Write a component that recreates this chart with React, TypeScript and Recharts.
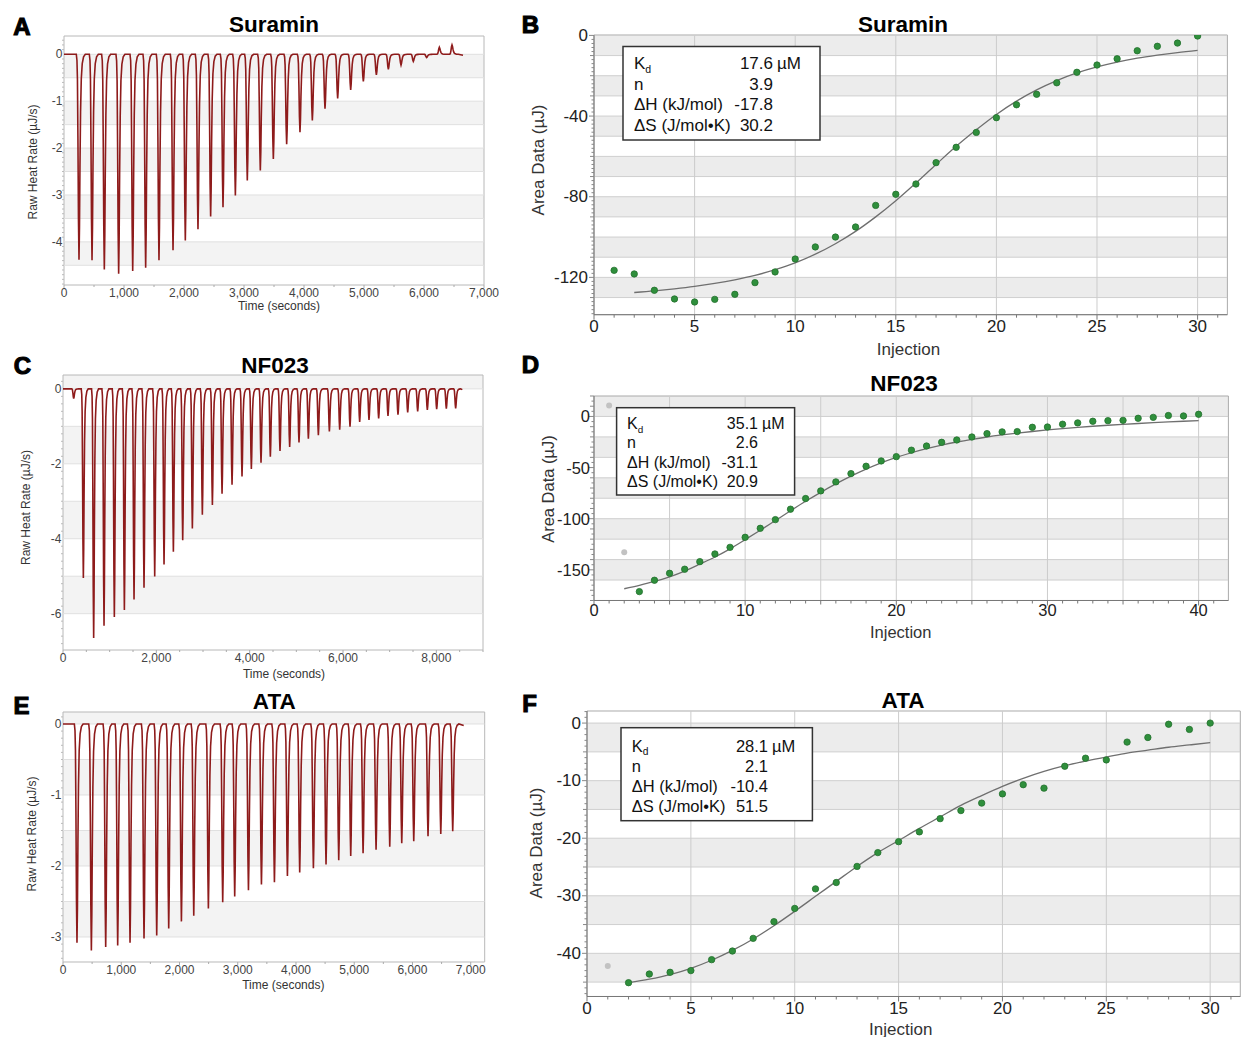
import React from 'react';
import { ComposedChart, Line, XAxis, YAxis, ReferenceArea, ReferenceLine } from 'recharts';

const FONT = '"Liberation Sans", Arial, Helvetica, sans-serif';

const range = (a: number, b: number, step: number): number[] => {
  const out: number[] = [];
  const n = Math.round((b - a) / step);
  for (let i = 0; i <= n; i++) out.push(Math.round((a + i * step) * 1000) / 1000);
  return out;
};
const has = (arr: number[], v: number) => arr.some((a) => Math.abs(a - v) < 1e-6);

// ---------------- Raw thermogram data (A, C, E) ----------------
// shape of one injection peak: [seconds relative to peak, fraction of peak height]
const dipShape: [number, number][] = [
  [-45, 0], [-34, 0.03], [-26, 0.12], [-18, 0.4], [-9, 0.8], [0, 1], [8, 0.84],
  [16, 0.55], [26, 0.28], [38, 0.12], [54, 0.045], [76, 0.012], [105, 0],
];

const aInjectionTimes = [250, 467, 672, 911, 1145, 1361, 1583, 1817, 2022, 2233, 2444, 2650, 2856, 3055, 3272, 3489, 3711, 3933, 4139, 4350, 4561, 4778, 4989, 5206, 5406, 5617, 5822, 6044, 6256, 6467];
const aPeakHeat = [-4.38, -4.39, -4.59, -4.68, -4.62, -4.55, -4.39, -4.18, -3.97, -3.73, -3.46, -3.26, -3.01, -2.69, -2.48, -2.23, -1.92, -1.66, -1.41, -1.16, -0.94, -0.76, -0.58, -0.44, -0.32, -0.23, -0.15, -0.07, 0.15, 0.2];
const aEndTime = 6650;

const cInjectionTimes = [229, 436, 657, 879, 1100, 1315, 1522, 1736, 1965, 2165, 2365, 2565, 2772, 2986, 3201, 3408, 3622, 3836, 4036, 4243, 4443, 4650, 4857, 5057, 5258, 5472, 5708, 5929, 6150, 6357, 6557, 6764, 6964, 7178, 7386, 7600, 7807, 8007, 8214, 8414];
const cPeakHeat = [-0.26, -5.05, -6.65, -6.32, -6.09, -5.9, -5.62, -5.31, -5.01, -4.69, -4.35, -4.04, -3.73, -3.36, -3.1, -2.8, -2.56, -2.34, -2.14, -1.97, -1.81, -1.66, -1.55, -1.43, -1.33, -1.24, -1.14, -1.09, -1.01, -0.88, -0.83, -0.79, -0.72, -0.69, -0.63, -0.6, -0.56, -0.54, -0.53, -0.52];
const cEndTime = 8557;

const eInjectionTimes = [240, 487, 733, 939, 1151, 1391, 1609, 1815, 2033, 2245, 2496, 2742, 2948, 3184, 3407, 3630, 3853, 4064, 4299, 4516, 4734, 4940, 5152, 5375, 5610, 5816, 6022, 6267, 6486, 6691];
const ePeakHeat = [-3.08, -3.19, -3.14, -3.12, -3.08, -3.02, -2.98, -2.88, -2.78, -2.7, -2.6, -2.51, -2.43, -2.34, -2.26, -2.23, -2.14, -2.09, -2.03, -1.98, -1.92, -1.86, -1.82, -1.77, -1.73, -1.68, -1.65, -1.58, -1.55, -1.51];
const eEndTime = 6880;

const timeTicksA = [0, 1000, 2000, 3000, 4000, 5000, 6000, 7000];
const timeTicksC = [0, 2000, 4000, 6000, 8000];
const timeTicksE = [0, 1000, 2000, 3000, 4000, 5000, 6000, 7000];
const heatTicksA = [0, -1, -2, -3, -4];
const heatTicksC = [0, -2, -4, -6];
const heatTicksE = [0, -1, -2, -3];

// ---------------- Integrated heat data (B, D, F) ----------------
const bInjections = range(1, 30, 1);
const bArea = [-116.5, -118.3, -126.4, -130.7, -132.2, -130.9, -128.4, -122.6, -117.3, -110.9, -104.9, -100.0, -95.0, -84.3, -78.8, -73.7, -63.1, -55.5, -48.1, -40.8, -34.4, -29.2, -23.5, -18.3, -14.7, -11.6, -7.6, -5.4, -3.8, -0.3];
const bFitInjections = range(2, 30, 1);
const bFit = [-127.5, -126.7, -125.7, -124.5, -123.0, -121.2, -119.0, -116.2, -112.8, -108.5, -103.3, -97.2, -90.0, -82.0, -73.2, -64.0, -55.0, -46.8, -39.2, -32.6, -27.0, -22.4, -18.6, -15.6, -13.2, -11.3, -9.8, -8.5, -7.4];
const bStatValues = ['17.6', '3.9', '-17.8', '30.2'];

const dInjections = range(3, 40, 1);
const dArea = [-171.3, -160.2, -153.4, -149.4, -142.0, -134.5, -128.0, -118.2, -109.4, -100.9, -90.7, -80.3, -72.8, -64.0, -55.9, -48.7, -43.5, -39.3, -33.0, -28.9, -25.3, -23.0, -20.1, -16.8, -15.1, -14.8, -10.6, -10.3, -7.6, -6.3, -4.7, -4.1, -3.8, -1.8, -0.9, 0.9, 0.5, 2.1];
const dExcludedInjections = [1, 2];
const dExcludedArea = [10.6, -132.9];
const dFitInjections = range(2, 40, 1);
const dFit = [-168.5, -165.2, -161.4, -156.8, -151.2, -144.5, -137.5, -129.5, -120.5, -111.3, -101.8, -92.3, -83.0, -74.2, -66.0, -58.4, -51.5, -45.4, -40.1, -35.5, -31.5, -28.0, -25.0, -22.4, -20.1, -18.1, -16.3, -14.7, -13.2, -11.9, -10.7, -9.6, -8.6, -7.7, -6.9, -6.1, -5.4, -4.7, -4.1];
const dStatValues = ['35.1', '2.6', '-31.1', '20.9'];

const fInjections = range(2, 30, 1);
const fArea = [-45.1, -43.6, -43.3, -43.0, -41.1, -39.6, -37.4, -34.5, -32.2, -28.8, -27.7, -24.9, -22.5, -20.6, -18.9, -16.6, -15.2, -13.9, -12.3, -10.7, -11.3, -7.5, -6.1, -6.4, -3.3, -2.5, -0.2, -1.1, 0.0];
const fExcludedInjections = [1];
const fExcludedArea = [-42.2];
const fFitInjections = range(2, 30, 1);
const fFit = [-45.1, -44.5, -43.7, -42.6, -41.2, -39.5, -37.5, -35.2, -32.7, -30.1, -27.5, -24.9, -22.5, -20.4, -18.3, -16.3, -14.3, -12.6, -11.0, -9.6, -8.4, -7.4, -6.6, -5.9, -5.2, -4.7, -4.2, -3.8, -3.4];
const fStatValues = ['28.1', '2.1', '-10.4', '51.5'];

const statLabels = ['Kd', 'n', '\u0394H (kJ/mol)', '\u0394S (J/mol\u2022K)'];

// ---------------- helpers ----------------
type Pt = { x: number; y: number };
const zip = (xs: number[], ys: number[]): Pt[] => xs.map((x, i) => ({ x, y: ys[i] }));

function buildTrace(times: number[], peaks: number[], endX: number): Pt[] {
  const pts: Pt[] = [{ x: 0, y: 0 }];
  times.forEach((t, i) => {
    dipShape.forEach(([dt, f]) => pts.push({ x: t + dt, y: Math.round(peaks[i] * f * 10000) / 10000 }));
  });
  pts.push({ x: endX, y: -0.02 });
  return pts;
}

type TickOpts = { fs: number; gap: number; major: number; mid: number; minor: number; midList?: number[]; color: string; tickColor: string; fmt: (v: number) => string };

const makeXTick = (labels: number[], o: TickOpts) => (p: any) => {
  const v = Number(p.payload.value);
  const lab = has(labels, v);
  const len = lab ? o.major : o.midList && has(o.midList, v) ? o.mid : o.minor;
  return (
    <g>
      {len > 0 && <line x1={p.x} x2={p.x} y1={p.y} y2={p.y + len} stroke={o.tickColor} strokeWidth={1} />}
      {lab && (
        <text x={p.x} y={p.y + o.gap} textAnchor="middle" dominantBaseline="central" fontSize={o.fs} fontFamily={FONT} fill={o.color}>
          {o.fmt(v)}
        </text>
      )}
    </g>
  );
};

const makeYTick = (labels: number[], o: TickOpts) => (p: any) => {
  const v = Number(p.payload.value);
  const lab = has(labels, v);
  const len = lab ? o.major : o.midList && has(o.midList, v) ? o.mid : o.minor;
  return (
    <g>
      {len > 0 && <line x1={p.x} x2={p.x - len} y1={p.y} y2={p.y} stroke={o.tickColor} strokeWidth={1} />}
      {lab && (
        <text x={p.x - o.gap} y={p.y} textAnchor="end" dominantBaseline="central" fontSize={o.fs} fontFamily={FONT} fill={o.color}>
          {o.fmt(v)}
        </text>
      )}
    </g>
  );
};

// ---------------- Raw panel ----------------
type RawCfg = {
  L: number; T: number; R: number; B: number;
  xDomain: [number, number]; yDomain: [number, number];
  xTicks: number[]; xLabels: number[]; yTicks: number[]; yLabels: number[];
  hLines: number[]; bands: [number, number][]; trace: Pt[];
};

function RawPanel({ c }: { c: RawCfg }) {
  const W = c.R - c.L + 90;
  const H = c.B - c.T + 50;
  const fmtT = (v: number) => v.toLocaleString('en-US');
  const xo: TickOpts = { fs: 12, gap: 8, major: 3, mid: 0, minor: 2, color: '#444', tickColor: '#aaa', fmt: fmtT };
  const yo: TickOpts = { fs: 12, gap: 1.5, major: 0, mid: 0, minor: 2, color: '#444', tickColor: '#bbb', fmt: (v) => String(v) };
  return (
    <div style={{ position: 'absolute', left: c.L - 60, top: c.T - 10, width: W, height: H }}>
      <ComposedChart width={W} height={H} margin={{ top: 10, right: 30, left: 0, bottom: 0 }}>
        <XAxis type="number" dataKey="x" domain={c.xDomain} ticks={c.xTicks} interval={0} allowDataOverflow height={40}
          tickSize={0} tickMargin={0} tickLine={false} axisLine={false} tick={makeXTick(c.xLabels, xo)} />
        <YAxis type="number" dataKey="y" domain={c.yDomain} ticks={c.yTicks} interval={0} allowDataOverflow width={60}
          tickSize={0} tickMargin={0} tickLine={false} axisLine={false} tick={makeYTick(c.yLabels, yo)} />
        {c.bands.map((b, i) => (
          <ReferenceArea key={'b' + i} x1={c.xDomain[0]} x2={c.xDomain[1]} y1={b[1]} y2={b[0]} fill="#f3f3f3" fillOpacity={1} stroke="none" ifOverflow="hidden" />
        ))}
        {c.hLines.map((y, i) => (
          <ReferenceLine key={'h' + i} y={y} stroke="#e0e0e0" strokeWidth={1} ifOverflow="hidden" />
        ))}
        <ReferenceArea x1={c.xDomain[0]} x2={c.xDomain[1]} y1={c.yDomain[0]} y2={c.yDomain[1]} fill="none" stroke="#b8b8b8" strokeWidth={1} />
        <Line data={c.trace} dataKey="y" type="linear" stroke="#8e1b1b" strokeWidth={1.6} dot={false} activeDot={false} isAnimationActive={false} />
      </ComposedChart>
    </div>
  );
}

// ---------------- Fit panel ----------------
type FitCfg = {
  L: number; T: number; R: number; B: number;
  xDomain: [number, number]; yDomain: [number, number];
  xTicks: number[]; xLabels: number[]; xMid: number[];
  yTicks: number[]; yLabels: number[]; yMid: number[];
  hLines: number[]; vLines: number[]; bands: [number, number][];
  fit: Pt[]; pts: Pt[]; excluded: Pt[];
  fs: number; xGap: number; yGap: number;
};

function FitPanel({ c }: { c: FitCfg }) {
  const W = c.R - c.L + 80;
  const H = c.B - c.T + 50;
  const xo: TickOpts = { fs: c.fs, gap: c.xGap, major: 5, mid: 4, minor: 3, midList: c.xMid, color: '#222', tickColor: '#777', fmt: (v) => String(v) };
  const yo: TickOpts = { fs: c.fs, gap: c.yGap, major: 5, mid: 4, minor: 2.5, midList: c.yMid, color: '#222', tickColor: '#888', fmt: (v) => String(v) };
  return (
    <div style={{ position: 'absolute', left: c.L - 60, top: c.T - 10, width: W, height: H }}>
      <ComposedChart width={W} height={H} margin={{ top: 10, right: 20, left: 0, bottom: 0 }}>
        <XAxis type="number" dataKey="x" domain={c.xDomain} ticks={c.xTicks} interval={0} allowDataOverflow height={40}
          tickSize={0} tickMargin={0} tickLine={false} axisLine={{ stroke: '#777' }} tick={makeXTick(c.xLabels, xo)} />
        <YAxis type="number" dataKey="y" domain={c.yDomain} ticks={c.yTicks} interval={0} allowDataOverflow width={60}
          tickSize={0} tickMargin={0} tickLine={false} axisLine={{ stroke: '#777' }} tick={makeYTick(c.yLabels, yo)} />
        {c.bands.map((b, i) => (
          <ReferenceArea key={'b' + i} x1={c.xDomain[0]} x2={c.xDomain[1]} y1={b[1]} y2={b[0]} fill="#ececec" fillOpacity={1} stroke="none" ifOverflow="hidden" />
        ))}
        {c.hLines.map((y, i) => (
          <ReferenceLine key={'h' + i} y={y} stroke="#cfcfcf" strokeWidth={1} ifOverflow="hidden" />
        ))}
        {c.vLines.map((x, i) => (
          <ReferenceLine key={'v' + i} x={x} stroke="#cccccc" strokeWidth={1} ifOverflow="hidden" />
        ))}
        <ReferenceArea x1={c.xDomain[0]} x2={c.xDomain[1]} y1={c.yDomain[0]} y2={c.yDomain[1]} fill="none" stroke="#aaaaaa" strokeWidth={1} />
        <Line data={c.fit} dataKey="y" type="monotone" stroke="#6f6f6f" strokeWidth={1.3} dot={false} activeDot={false} isAnimationActive={false} />
        <Line data={c.excluded} dataKey="y" stroke="none" dot={{ r: 3, fill: '#c2c2c2', stroke: 'none' }} activeDot={false} isAnimationActive={false} />
        <Line data={c.pts} dataKey="y" stroke="none" dot={{ r: 3.2, fill: '#2f8f3c', stroke: '#23702d', strokeWidth: 0.8 }} activeDot={false} isAnimationActive={false} />
      </ComposedChart>
    </div>
  );
}

// ---------------- configs ----------------
const aCfg: RawCfg = {
  L: 64, T: 36, R: 484, B: 285, xDomain: [0, 7000], yDomain: [-4.92, 0.39],
  xTicks: range(0, 7000, 500), xLabels: timeTicksA, yTicks: range(-4.9, 0.3, 0.1), yLabels: heatTicksA,
  hLines: range(-4.5, 0, 0.5), bands: [[0, -0.5], [-1, -1.5], [-2, -2.5], [-3, -3.5], [-4, -4.5]],
  trace: buildTrace(aInjectionTimes, aPeakHeat, aEndTime),
};
const cCfg: RawCfg = {
  L: 63.3, T: 375, R: 483.3, B: 650, xDomain: [0, 9000], yDomain: [-6.97, 0.37],
  xTicks: range(0, 9000, 500), xLabels: timeTicksC, yTicks: range(-6.8, 0.2, 0.2), yLabels: heatTicksC,
  hLines: range(-6, 0, 1), bands: [[0.37, 0], [-1, -2], [-3, -4], [-5, -6]],
  trace: buildTrace(cInjectionTimes, cPeakHeat, cEndTime),
};
const eCfg: RawCfg = {
  L: 63.3, T: 712.3, R: 485, B: 962.3, xDomain: [0, 7240], yDomain: [-3.352, 0.169],
  xTicks: range(0, 7000, 500), xLabels: timeTicksE, yTicks: range(-3.3, 0.1, 0.1), yLabels: heatTicksE,
  hLines: range(-3, 0, 0.5), bands: [[0.169, 0], [-0.5, -1], [-1.5, -2], [-2.5, -3]],
  trace: buildTrace(eInjectionTimes, ePeakHeat, eEndTime),
};

const bCfg: FitCfg = {
  L: 593.6, T: 35.3, R: 1227, B: 315, xDomain: [0, 31.48], yDomain: [-138.5, 0.2],
  xTicks: range(0, 31, 1), xLabels: [0, 5, 10, 15, 20, 25, 30], xMid: [],
  yTicks: range(-138, 0, 2), yLabels: [0, -40, -80, -120], yMid: range(-130, 0, 10),
  hLines: range(-130, 0, 10), vLines: [5, 10, 15, 20, 25, 30],
  bands: [[0, -10], [-20, -30], [-40, -50], [-60, -70], [-80, -90], [-100, -110], [-120, -130]],
  fit: zip(bFitInjections, bFit), pts: zip(bInjections, bArea), excluded: [],
  fs: 17, xGap: 12, yGap: 6,
};
const dCfg: FitCfg = {
  L: 593.6, T: 396, R: 1228, B: 600.5, xDomain: [0, 41.97], yDomain: [-180, 20],
  xTicks: range(0, 41, 1), xLabels: [0, 10, 20, 30, 40], xMid: [5, 15, 25, 35],
  yTicks: range(-180, 20, 5), yLabels: [0, -50, -100, -150], yMid: range(-180, 20, 10),
  hLines: range(-160, 0, 20), vLines: [5, 10, 15, 20, 25, 30, 35, 40],
  bands: [[20, 0], [-20, -40], [-60, -80], [-100, -120], [-140, -160]],
  fit: zip(dFitInjections, dFit), pts: zip(dInjections, dArea), excluded: zip(dExcludedInjections, dExcludedArea),
  fs: 16.5, xGap: 10, yGap: 4,
};
const fCfg: FitCfg = {
  L: 586.7, T: 711, R: 1240, B: 996.5, xDomain: [0, 31.45], yDomain: [-47.5, 2.1],
  xTicks: range(0, 31, 1), xLabels: [0, 5, 10, 15, 20, 25, 30], xMid: [],
  yTicks: range(-47, 2, 1), yLabels: [0, -10, -20, -30, -40], yMid: range(-45, 0, 5),
  hLines: range(-45, 0, 5), vLines: [5, 10, 15, 20, 25, 30],
  bands: [[0, -5], [-10, -15], [-20, -25], [-30, -35], [-40, -45]],
  fit: zip(fFitInjections, fFit), pts: zip(fInjections, fArea), excluded: zip(fExcludedInjections, fExcludedArea),
  fs: 17, xGap: 12, yGap: 6,
};

// ---------------- annotations ----------------
function StatsBox({ x, y, w, h, fs, labelX, valueRight, baselines, values }: {
  x: number; y: number; w: number; h: number; fs: number; labelX: number; valueRight: number; baselines: number[]; values: string[];
}) {
  return (
    <g fontFamily={FONT} fontSize={fs} fill="#111">
      <rect x={x} y={y} width={w} height={h} fill="#fff" stroke="#333" strokeWidth={1.5} />
      {statLabels.map((l, i) => (
        <text key={'l' + i} x={labelX} y={baselines[i]}>
          {i === 0 ? (
            <>
              <tspan>K</tspan>
              <tspan fontSize={fs * 0.62} dy={fs * 0.22}>d</tspan>
            </>
          ) : (
            l
          )}
        </text>
      ))}
      {values.map((v, i) => (
        <text key={'v' + i} x={valueRight} y={baselines[i]} textAnchor="end">{v}</text>
      ))}
      <text x={valueRight + 4} y={baselines[0]}>{'\u00B5M'}</text>
    </g>
  );
}

function Overlay() {
  const letter = (t: string, x: number, y: number) => (
    <text x={x} y={y} textAnchor="middle" dominantBaseline="central" fontFamily={FONT} fontSize={24} fontWeight={900} stroke="#000" strokeWidth={1.1} fill="#000">{t}</text>
  );
  const title = (t: string, x: number, y: number) => (
    <text x={x} y={y} textAnchor="middle" dominantBaseline="central" fontFamily={FONT} fontSize={22.5} fontWeight={700} fill="#000">{t}</text>
  );
  const xl = (t: string, x: number, y: number, fs: number) => (
    <text x={x} y={y} textAnchor="middle" dominantBaseline="central" fontFamily={FONT} fontSize={fs} fill="#333">{t}</text>
  );
  const yl = (t: string, x: number, y: number, fs: number) => (
    <text transform={`translate(${x},${y}) rotate(-90)`} textAnchor="middle" dominantBaseline="central" fontFamily={FONT} fontSize={fs} fill="#333">{t}</text>
  );
  return (
    <svg width={1241} height={1037} style={{ position: 'absolute', left: 0, top: 0, pointerEvents: 'none' }}>
      {letter('A', 22, 26.5)}
      {letter('B', 530.5, 24.7)}
      {letter('C', 22.5, 365)}
      {letter('D', 530.5, 364)}
      {letter('E', 21.5, 705)}
      {letter('F', 529.5, 703.5)}

      {title('Suramin', 274, 24.5)}
      {title('Suramin', 903, 24.7)}
      {title('NF023', 275, 365)}
      {title('NF023', 904, 383.3)}
      {title('ATA', 274.3, 701)}
      {title('ATA', 903, 700)}

      {xl('Time (seconds)', 279, 306, 12)}
      {yl('Raw Heat Rate (\u00B5J/s)', 33.3, 162, 12)}
      {xl('Time (seconds)', 284, 674, 12)}
      {yl('Raw Heat Rate (\u00B5J/s)', 26, 507.5, 12)}
      {xl('Time (seconds)', 283.3, 985.3, 12)}
      {yl('Raw Heat Rate (\u00B5J/s)', 31.7, 834, 12)}

      {xl('Injection', 908.5, 349, 17)}
      {yl('Area Data (\u00B5J)', 538.4, 160, 17)}
      {xl('Injection', 900.7, 631.7, 16.5)}
      {yl('Area Data (\u00B5J)', 547.6, 489, 16.5)}
      {xl('Injection', 900.7, 1029, 17)}
      {yl('Area Data (\u00B5J)', 536, 843, 17)}

      <StatsBox x={623} y={46.5} w={197} h={93.5} fs={17} labelX={634} valueRight={773} baselines={[69.3, 89.8, 110.3, 130.8]} values={bStatValues} />
      <StatsBox x={616.6} y={407.7} w={178} h={87.3} fs={16} labelX={627} valueRight={758} baselines={[429, 448.3, 467.6, 486.9]} values={dStatValues} />
      <StatsBox x={621} y={727.7} w={191.4} h={93} fs={16.5} labelX={631.7} valueRight={768} baselines={[751.5, 771.5, 791.5, 811.5]} values={fStatValues} />
    </svg>
  );
}

export default function App() {
  return (
    <div style={{ position: 'absolute', left: 0, top: 0, width: 1241, height: 1037, overflow: 'hidden', background: '#fff', fontFamily: FONT }}>
      <RawPanel c={aCfg} />
      <RawPanel c={cCfg} />
      <RawPanel c={eCfg} />
      <FitPanel c={bCfg} />
      <FitPanel c={dCfg} />
      <FitPanel c={fCfg} />
      <Overlay />
    </div>
  );
}
